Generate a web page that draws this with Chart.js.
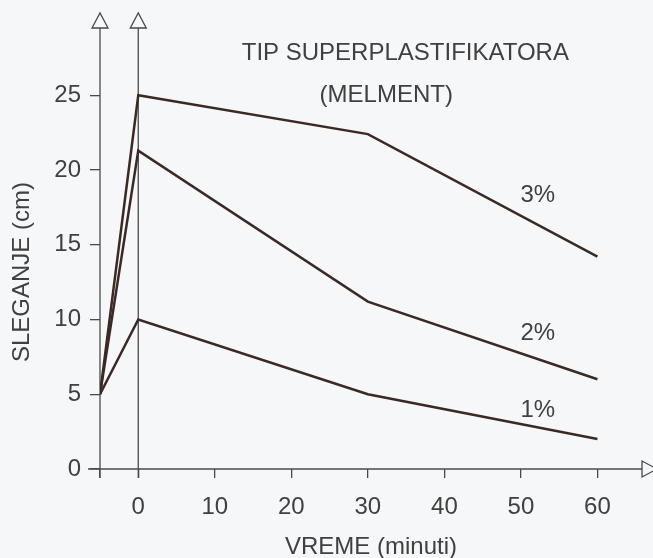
<!DOCTYPE html>
<html>
<head>
<meta charset="utf-8">
<script src="https://cdn.jsdelivr.net/npm/chart.js@4.4.1/dist/chart.umd.min.js"></script>
<style>
  html, body { margin: 0; padding: 0; background: #f6f7f9; }
</style>
</head>
<body>
<canvas id="chart" width="653" height="558"></canvas>
<script>
// vreme u minutima (prva tacka je pocetno stanje pre dodavanja)
const vreme = [-5, 0, 30, 60];
// sleganje (cm) za razlicit procenat superplastifikatora
const sleganje3 = [5, 25, 22.4, 14.2];
const sleganje2 = [5, 21.3, 11.2, 6.0];
const sleganje1 = [5, 10, 5.0, 2.0];
const serije = ['3%', '2%', '1%'];
const xTicks = [0, 10, 20, 30, 40, 50, 60];
const yTicks = [0, 5, 10, 15, 20, 25];

const INK = '#3b2926';
const AXIS = '#4a4a4a';
const TEXT = '#404040';
const FONT = { family: "'Liberation Sans', Arial, sans-serif", size: 24 };
const fontStr = size => `${size}px 'Liberation Sans', Arial, sans-serif`;

const toPoints = ys => vreme.map((x, i) => ({ x, y: ys[i] }));

// ose, strelice i natpisi
const crtez = {
  id: 'crtez',
  beforeDraw(chart) {
    const { ctx, width, height } = chart;
    ctx.save();
    ctx.fillStyle = '#f6f7f9';
    ctx.fillRect(0, 0, width, height);
    ctx.restore();
  },
  beforeDatasetsDraw(chart) {
    const { ctx, chartArea, scales: { x, y } } = chart;
    const y0 = y.getPixelForValue(0);
    const top = chartArea.top;
    ctx.save();
    ctx.strokeStyle = AXIS;
    ctx.lineWidth = 1.3;
    // horizontalna osa
    ctx.beginPath();
    ctx.moveTo(88, y0);
    ctx.lineTo(642, y0);
    ctx.stroke();
    // dve vertikalne ose: pocetak i t = 0
    [-5, 0].forEach(v => {
      const px = x.getPixelForValue(v);
      ctx.beginPath();
      ctx.moveTo(px, top);
      ctx.lineTo(px, y0 + 9);
      ctx.stroke();
      ctx.beginPath();
      ctx.moveTo(px - 8, top);
      ctx.lineTo(px + 8, top);
      ctx.lineTo(px, top - 15);
      ctx.closePath();
      ctx.stroke();
    });
    ctx.beginPath();
    ctx.moveTo(642, y0 - 8);
    ctx.lineTo(642, y0 + 8);
    ctx.lineTo(657, y0);
    ctx.closePath();
    ctx.stroke();
    ctx.restore();
  },
  afterDraw(chart) {
    const { ctx, scales: { x, y } } = chart;
    ctx.save();
    ctx.fillStyle = TEXT;
    ctx.font = fontStr(24);
    ctx.textAlign = 'center';
    ctx.textBaseline = 'middle';
    ctx.fillText('TIP SUPERPLASTIFIKATORA', x.getPixelForValue(34.9), y.getPixelForValue(27.8));
    ctx.fillText('(MELMENT)', x.getPixelForValue(32.4), y.getPixelForValue(25.0));
    // oznake krivih
    const polozaj = [18.3, 9.1, 3.9];
    serije.forEach((s, i) => {
      ctx.fillText(s, x.getPixelForValue(52.2), y.getPixelForValue(polozaj[i]));
    });
    ctx.fillText('VREME (minuti)', 371, 547);
    ctx.translate(22, 272);
    ctx.rotate(-Math.PI / 2);
    ctx.fillText('SLEGANJE (cm)', 0, 0);
    ctx.restore();
  }
};

const linija = (label, ys) => ({
  label,
  data: toPoints(ys),
  borderColor: INK,
  borderWidth: 2.5,
  pointRadius: 0,
  tension: 0,
  fill: false
});

new Chart(document.getElementById('chart'), {
  type: 'line',
  data: {
    datasets: [
      linija(serije[0], sleganje3),
      linija(serije[1], sleganje2),
      linija(serije[2], sleganje1)
    ]
  },
  options: {
    responsive: false,
    devicePixelRatio: 1,
    animation: false,
    layout: { padding: { top: 28, right: 2, left: 0, bottom: 0 } },
    plugins: { legend: { display: false }, tooltip: { enabled: false } },
    scales: {
      x: {
        type: 'linear',
        min: -5,
        max: 67,
        afterBuildTicks: s => { s.ticks = [-5, ...xTicks].map(value => ({ value })); },
        afterFit: s => { s.height = 89; },
        ticks: {
          callback: v => (v === -5 ? '' : v),
          font: FONT,
          color: TEXT,
          padding: 15,
          maxRotation: 0,
          autoSkip: false
        },
        grid: { drawOnChartArea: false, drawTicks: true, tickLength: 9, color: AXIS, lineWidth: 1.3 },
        border: { display: false }
      },
      y: {
        min: 0,
        max: 29.5,
        afterBuildTicks: s => { s.ticks = yTicks.map(value => ({ value })); },
        afterFit: s => { s.width = 100; },
        ticks: { font: FONT, color: TEXT, padding: 9 },
        grid: { drawOnChartArea: false, drawTicks: true, tickLength: 10, color: AXIS, lineWidth: 1.3 },
        border: { display: false }
      }
    }
  },
  plugins: [crtez]
});
</script>
</body>
</html>
